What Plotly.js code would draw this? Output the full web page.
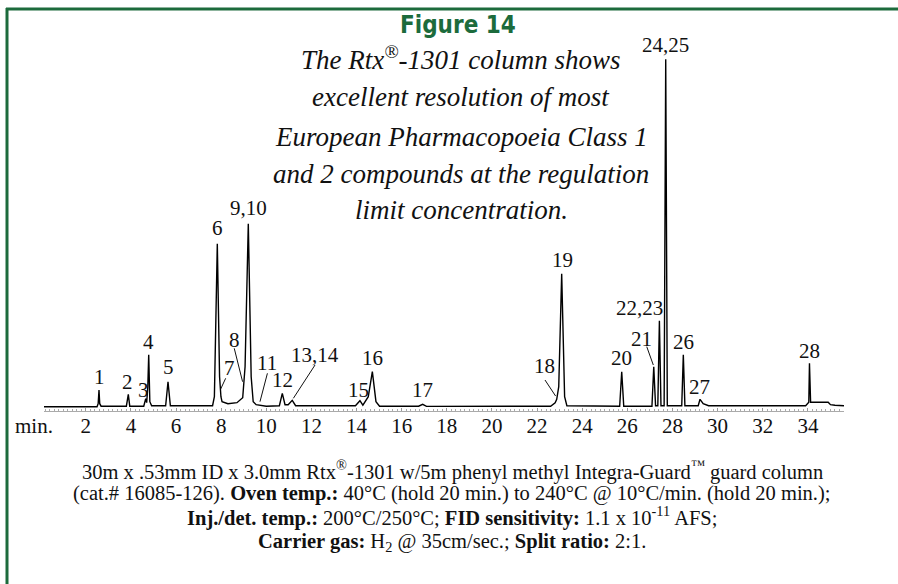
<!DOCTYPE html>
<html><head><meta charset="utf-8">
<script src="https://cdn.plot.ly/plotly-3.0.1.min.js"></script>
<style>html,body{margin:0;padding:0;background:#fff}#c{width:898px;height:584px}</style>
</head><body><div id="c"></div>
<script>
// Chromatogram trace: retention time (min) and detector signal (arbitrary units)
const timeMin = [0.15,2.50,2.55,2.587,2.62,2.68,3.80,3.886,3.95,4.57,4.657,4.70,4.75,4.79,4.84,4.92,5.54,5.645,5.75,7.62,7.70,7.83,7.93,7.99,8.04,8.30,8.70,8.955,9.06,9.203,9.33,9.42,9.55,9.72,10.0,10.58,10.71,10.83,10.97,11.15,11.30,13.95,14.15,14.28,14.52,14.70,14.86,15.02,16.75,16.93,17.10,22.60,22.80,22.87,22.96,23.09,23.22,23.32,25.66,25.75,25.84,27.09,27.17,27.25,27.35,27.42,27.49,27.63,27.70,27.77,28.41,28.48,28.55,29.14,29.22,29.36,29.60,33.00,33.20,33.30,33.90,34.00,34.04,34.07,34.12,34.90,35.00,35.20,35.60];
const signal  = [0,0,3,16.7,3,0.5,0.5,12.4,0.5,0.5,8,4,20,52,5,1,1,25,1,1,10,163,30,10,5,3,4,9,40,183,30,5,2,1.5,0.5,1,13.4,2,2,6.4,1,1,6,1.5,10,35,5,0.5,0.5,2.4,0.3,0.5,4,7.4,20,133,10,1,0.5,35,0.5,0.5,40,1,1,86,1,1,347.4,1,1,52,1,1,7.4,3,1,1,1.5,1,1,4,4.4,43.4,4.4,4.4,2,1.5,1];
// Peak labels and the retention time each one names
const peakLabels = ["1","2","3","4","5","6","7","8","9,10","11","12","13,14","15","16","17","18","19","20","21","22,23","24,25","26","27","28"];
const peakTimes  = [2.587,3.886,4.657,4.79,5.645,7.83,8.04,8.955,9.203,9.72,10.71,11.15,14.15,14.70,16.93,22.87,23.09,25.75,27.17,27.42,27.70,28.48,29.22,34.07];
// Axis ticks
const tickVals = [2,4,6,8,10,12,14,16,18,20,22,24,26,28,30,32,34];
const tickText = tickVals.map(String);

// ---- layout (positions, not data) ----
const labelPos = { // [time, y] of label centre
 "1":[2.60,30],"2":[3.87,25],"3":[4.55,16.7],"4":[4.80,65],"5":[5.66,40],"6":[7.83,178.4],
 "7":[8.35,38.4],"8":[8.57,66.7],"9,10":[9.20,198.4],"11":[10.02,44],"12":[10.71,26.7],
 "13,14":[12.16,51.7],"15":[14.08,16.7],"16":[14.70,48.4],"17":[16.93,16.7],"18":[22.31,40.7],
 "19":[23.12,146.7],"20":[25.75,48.4],"21":[26.63,67.7],"22,23":[26.56,98.4],"24,25":[27.71,361.7],
 "26":[28.48,65],"27":[29.19,20],"28":[34.09,56]};
const leaders = { // label -> [x0,y0,x1,y1]
 "7":[8.20,28.4,7.98,17.7],"8":[8.58,58.4,8.95,25],"11":[10.05,33.4,9.72,5],
 "13,14":[12.16,41.7,11.20,8.4],"18":[22.35,26.7,22.82,10.7],"21":[26.86,60,27.15,41.7]};

const green = '#1c6b3c';
const serif = 'Liberation Serif, Times New Roman, serif';
const annotations = [];
peakLabels.forEach((lab,i)=>{
  const p = labelPos[lab];
  annotations.push({x:p[0],y:p[1],xref:'x',yref:'y',text:lab,showarrow:false,borderpad:0,
    font:{family:serif,size:21,color:'#111'},xanchor:'center',yanchor:'middle'});
});
const shapes = [];
Object.keys(leaders).forEach(k=>{
  const l = leaders[k];
  shapes.push({type:'line',xref:'x',yref:'y',x0:l[0],y0:l[1],x1:l[2],y1:l[3],line:{color:'#111',width:1}});
});
// pixel helpers for page text
const PX = px => (px-44)/800, PY = py => (411-py)/371;
shapes.push({type:'line',xref:'paper',yref:'paper',x0:PX(6),x1:PX(900),y0:PY(9),y1:PY(9),line:{color:green,width:3}});
shapes.push({type:'line',xref:'paper',yref:'paper',x0:PX(7),x1:PX(7),y0:PY(8),y1:PY(590),line:{color:green,width:3}});

function txt(px,py,text,font){
  annotations.push({xref:'paper',yref:'paper',x:PX(px),y:PY(py),text:text,showarrow:false,borderpad:0,
    xanchor:'center',yanchor:'middle',font:font});
}
txt(458,25,'<b>Figure 14</b>',{family:'DejaVu Sans Condensed, Liberation Sans Narrow, sans-serif',size:24,color:green});
const sub = ['The Rtx<sup>®</sup>-1301 column shows','excellent resolution of most','European Pharmacopoeia Class 1','and 2 compounds at the regulation','limit concentration.'];
const subY = [58,97,137,174,210];
sub.forEach((s,i)=>txt(461,subY[i],'<i>'+s+'</i>',{family:serif,size:27,color:'#111'}));
const cap = ['30m x .53mm ID x 3.0mm Rtx<sup>®</sup>-1301 w/5m phenyl methyl Integra-Guard<sup>™</sup> guard column',
 '(cat.# 16085-126). <b>Oven temp.:</b> 40°C (hold 20 min.) to 240°C @ 10°C/min. (hold 20 min.);',
 '<b>Inj./det. temp.:</b> 200°C/250°C; <b>FID sensitivity:</b> 1.1 x 10<sup>-11</sup> AFS;',
 '<b>Carrier gas:</b> H<sub>2</sub> @ 35cm/sec.; <b>Split ratio:</b> 2:1.'];
const capY = [470,493,516,542];
cap.forEach((s,i)=>txt(452,capY[i],s,{family:serif,size:20.5,color:'#111'}));
txt(34,426,'min.',{family:serif,size:21,color:'#111'});

const trace = {x:timeMin,y:signal,type:'scatter',mode:'lines',line:{color:'#000',width:1.4},hoverinfo:'skip'};
const layout = {
  width:898,height:584,margin:{l:44,r:54,t:40,b:173},paper_bgcolor:'#fff',plot_bgcolor:'#fff',showlegend:false,
  xaxis:{range:[0.15,35.6],showgrid:false,zeroline:false,showline:true,linecolor:'#aaa',linewidth:1,
    tickmode:'array',tickvals:tickVals,ticktext:tickText,ticks:'inside',ticklen:3,tickcolor:'#999',
    ticklabelstandoff:-4,
    tickfont:{family:serif,size:21,color:'#111'},
    minor:{dtick:0.2,ticks:'inside',ticklen:2,tickcolor:'#aaa'}},
  yaxis:{range:[-4.3,366.7],visible:false,showgrid:false,zeroline:false},
  annotations:annotations,shapes:shapes
};
Plotly.newPlot('c',[trace],layout,{staticPlot:true});
</script></body></html>
